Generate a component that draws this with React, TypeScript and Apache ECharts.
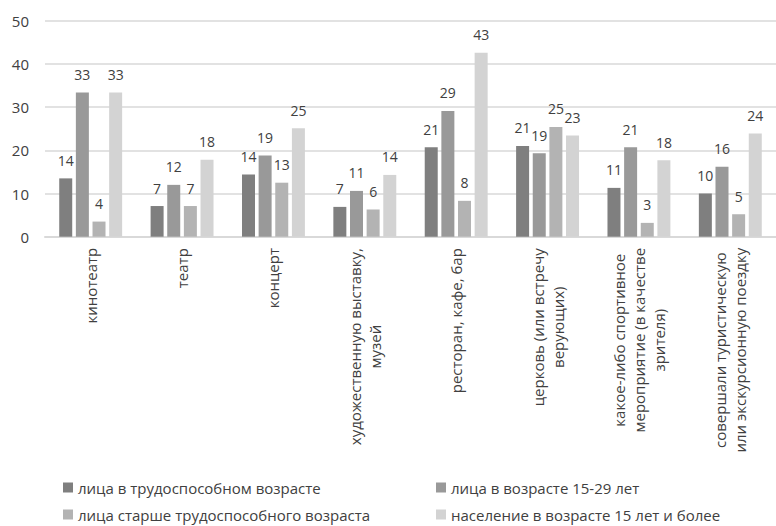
import React, { useEffect, useRef } from "react";
import * as echarts from "echarts";

const categories = [
  "кинотеатр",
  "театр",
  "концерт",
  "художественную выставку,\nмузей",
  "ресторан, кафе, бар",
  "церковь (или встречу\nверующих)",
  "какое-либо спортивное\nмероприятие (в качестве\nзрителя)",
  "совершали туристическую\nили экскурсионную поездку",
];

const seriesNames = [
  "лица в трудоспособном возрасте",
  "лица в возрасте 15-29 лет",
  "лица старше трудоспособного возраста",
  "население в возрасте 15 лет и более",
];

const workingAge = [13.5, 7.1, 14.4, 6.9, 20.7, 21.0, 11.3, 10.0];
const youth = [33.4, 12.0, 18.8, 10.6, 29.1, 19.3, 20.7, 16.2];
const olderAge = [3.5, 7.1, 12.5, 6.3, 8.3, 25.4, 3.2, 5.2];
const population = [33.4, 17.8, 25.1, 14.3, 42.6, 23.4, 17.7, 23.9];

const yTicks = [0, 10, 20, 30, 40, 50];

const colors = ["#7f7f7f", "#999999", "#b3b3b3", "#d3d3d3"];
const FONT = '"Open Sans", "Noto Sans", sans-serif';
const AXIS_FONT_SIZE = 15;
const TEXT_COLOR = "#404040";

function measure(text: string, size: number): number {
  const c = document.createElement("canvas");
  const ctx = c.getContext("2d");
  if (!ctx) return text.length * size * 0.55;
  ctx.font = `${size}px "Open Sans"`;
  return ctx.measureText(text).width;
}

export default function App() {
  const ref = useRef<HTMLDivElement>(null);
  useEffect(() => {
    document.body.style.margin = "0";
    if (!ref.current) return;
    const chart = echarts.init(ref.current, undefined, { renderer: "svg" });

    const rich: Record<string, any> = {};
    categories.forEach((c, i) => {
      const lines = c.split("\n");
      const w = Math.ceil(Math.max(...lines.map((l) => measure(l, AXIS_FONT_SIZE))));
      rich["c" + i] = {
        width: w,
        align: "center",
        fontSize: AXIS_FONT_SIZE,
        fontFamily: FONT,
        color: TEXT_COLOR,
        lineHeight: 20,
      };
    });

    const data = [workingAge, youth, olderAge, population];

    const legendPos = [
      { left: 63, top: 480 },
      { left: 436, top: 480 },
      { left: 63, top: 507 },
      { left: 436, top: 507 },
    ];

    chart.setOption({
      animation: false,
      grid: { left: 45, top: 20.7, width: 744, height: 216, containLabel: false },
      xAxis: {
        type: "category",
        data: categories,
        axisTick: { show: false },
        axisLine: { lineStyle: { color: "#d9d9d9", width: 2 } },
        axisLabel: {
          rotate: 90,
          interval: 0,
          margin: 11,
          formatter: (value: string, idx: number) =>
            value
              .split("\n")
              .map((l) => `{c${idx}|${l}}`)
              .join("\n"),
          rich,
        },
      },
      yAxis: {
        type: "value",
        min: yTicks[0],
        max: yTicks[yTicks.length - 1],
        interval: 10,
        axisLine: { show: false },
        axisTick: { show: false },
        splitLine: { lineStyle: { color: "#d9d9d9", width: 1.5 } },
        axisLabel: {
          margin: 16,
          fontSize: 15,
          fontFamily: FONT,
          color: TEXT_COLOR,
        },
      },
      legend: seriesNames.map((n, i) => ({
        data: [n],
        left: legendPos[i].left,
        top: legendPos[i].top,
        itemWidth: 10,
        itemHeight: 10,
        icon: "rect",
        padding: 0,
        textStyle: { fontSize: 15, fontFamily: FONT, color: TEXT_COLOR },
      })),
      series: seriesNames.map((n, i) => ({
        name: n,
        type: "bar",
        data: data[i],
        barWidth: 13,
        barGap: "28%",
        itemStyle: { color: colors[i] },
        label: {
          show: true,
          position: "top",
          distance: 11,
          fontSize: 14,
          fontFamily: FONT,
          color: TEXT_COLOR,
          formatter: (p: any) => String(Math.round(p.value)),
        },
      })),
    });
    return () => chart.dispose();
  }, []);
  return <div ref={ref} style={{ width: 776, height: 526 }} />;
}
